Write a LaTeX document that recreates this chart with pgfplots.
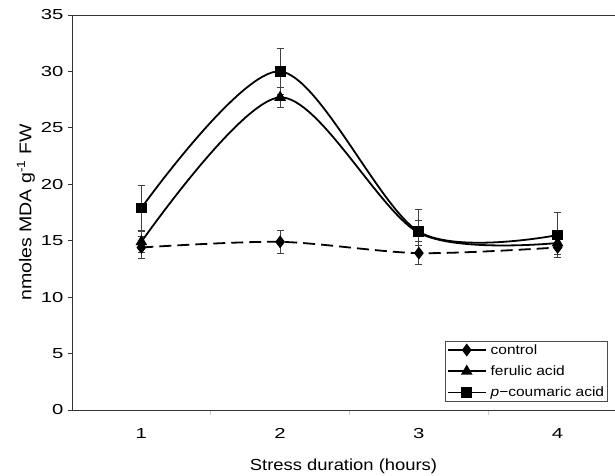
\documentclass[border=0pt]{standalone}
\usepackage{fontspec}
\setmainfont[FakeStretch=1.15]{Liberation Sans}
\newfontfamily\tickfam[FakeStretch=1.4]{Liberation Sans}
\usepackage{pgfplots}
\pgfplotsset{compat=1.18}

\newcommand\tickfont{\tickfam\fontsize{14.5bp}{17bp}\selectfont}
\newcommand\labfont{\fontsize{16bp}{19bp}\selectfont}
\newcommand\ylabfont{\fontsize{17bp}{19bp}\selectfont}
\newcommand\legfont{\fontsize{13.5bp}{16bp}\selectfont}

\begin{document}
\begin{tikzpicture}
\begin{axis}[
    name=ax,
    scale only axis,
    width=555bp,
    height=395bp,
    xmin=0.5, xmax=4.5,
    ymin=0, ymax=35,
    axis lines=left,
    axis line style={-, draw=black!80, line width=0.8bp},
    /pgf/number format/assume math mode=true,
    xtick={1,2,3,4},
    minor xtick={1.5,2.5,3.5},
    ytick={0,5,10,15,20,25,30,35},
    tick align=outside,
    major tick length=4bp,
    minor tick length=5bp,
    every major x tick/.append style={draw=none},
    every minor x tick/.append style={draw=black!20, line width=0.6bp},
    ytick style={draw=black!80, line width=0.8bp},
    ticklabel style={font=\tickfont},
    xticklabel style={yshift=-11bp},
    yticklabel style={xshift=-1bp},
    xlabel={Stress duration (hours)},
    ylabel={nmoles MDA g\textsuperscript{-1} FW},
    every axis x label/.style={font=\labfont, at={(rel axis cs:0.5,0)}, anchor=base, xshift=-6bp, yshift=-60bp},
    every axis y label/.style={font=\ylabfont, at={(rel axis cs:0,0.5)}, xshift=-46bp, rotate=90, anchor=center},
    legend style={at={(0.672,0.02)}, anchor=south west, font=\legfont,
        draw=black!70, line width=0.8bp, inner sep=1.5bp, row sep=6bp,
        column sep=2bp, cells={anchor=west}},
    legend image code/.code={
        \draw[mark repeat=2, mark phase=2]
        plot coordinates {(0bp,0bp) (19bp,0bp) (38bp,0bp)};
    },
    error bars/error bar style={solid, line width=0.8bp, black!75},
    error bars/error mark options={solid, rotate=90, mark size=3.5bp, line width=0.8bp, black!75},
]
% control
\addplot[black, line width=1.8bp, smooth, dash pattern=on 12bp off 6bp,
    mark=diamond*, mark size=5bp,
    mark options={solid, black, fill=black},
    legend image post style={solid},
    error bars/.cd, y dir=both, y explicit]
coordinates {
    (1,14.4) +- (0,1.0)
    (2,14.9) +- (0,1.0)
    (3,13.9) +- (0,1.0)
    (4,14.4) +- (0,0.9)
};
\addlegendentry{control}
% ferulic acid
\addplot[black, line width=1.8bp, smooth, mark=triangle*, mark size=5bp,
    mark options={solid, black, fill=black},
    error bars/.cd, y dir=both, y explicit]
coordinates {
    (1,14.9) +- (0,0.9)
    (2,27.7) +- (0,0.9)
    (3,15.7) +- (0,1.1)
    (4,14.8) +- (0,1.0)
};
\addlegendentry{ferulic acid}
% p-coumaric acid
\addplot[black, line width=1.8bp, smooth, mark=square*, mark size=4.5bp,
    mark options={solid, black, fill=black},
    error bars/.cd, y dir=both, y explicit]
coordinates {
    (1,17.9) +- (0,2.0)
    (2,30.0) +- (0,2.0)
    (3,15.8) +- (0,2.0)
    (4,15.5) +- (0,2.0)
};
\addlegendentry{\textit{p}−coumaric acid}
\draw[black!80, line width=0.8bp] (rel axis cs:0,1) -- (rel axis cs:1,1);
\end{axis}
\pgfresetboundingbox
\path[use as bounding box] ([xshift=-72bp,yshift=-66bp]ax.south west) rectangle ([xshift=-12bp,yshift=15bp]ax.north east);
\end{tikzpicture}
\end{document}
